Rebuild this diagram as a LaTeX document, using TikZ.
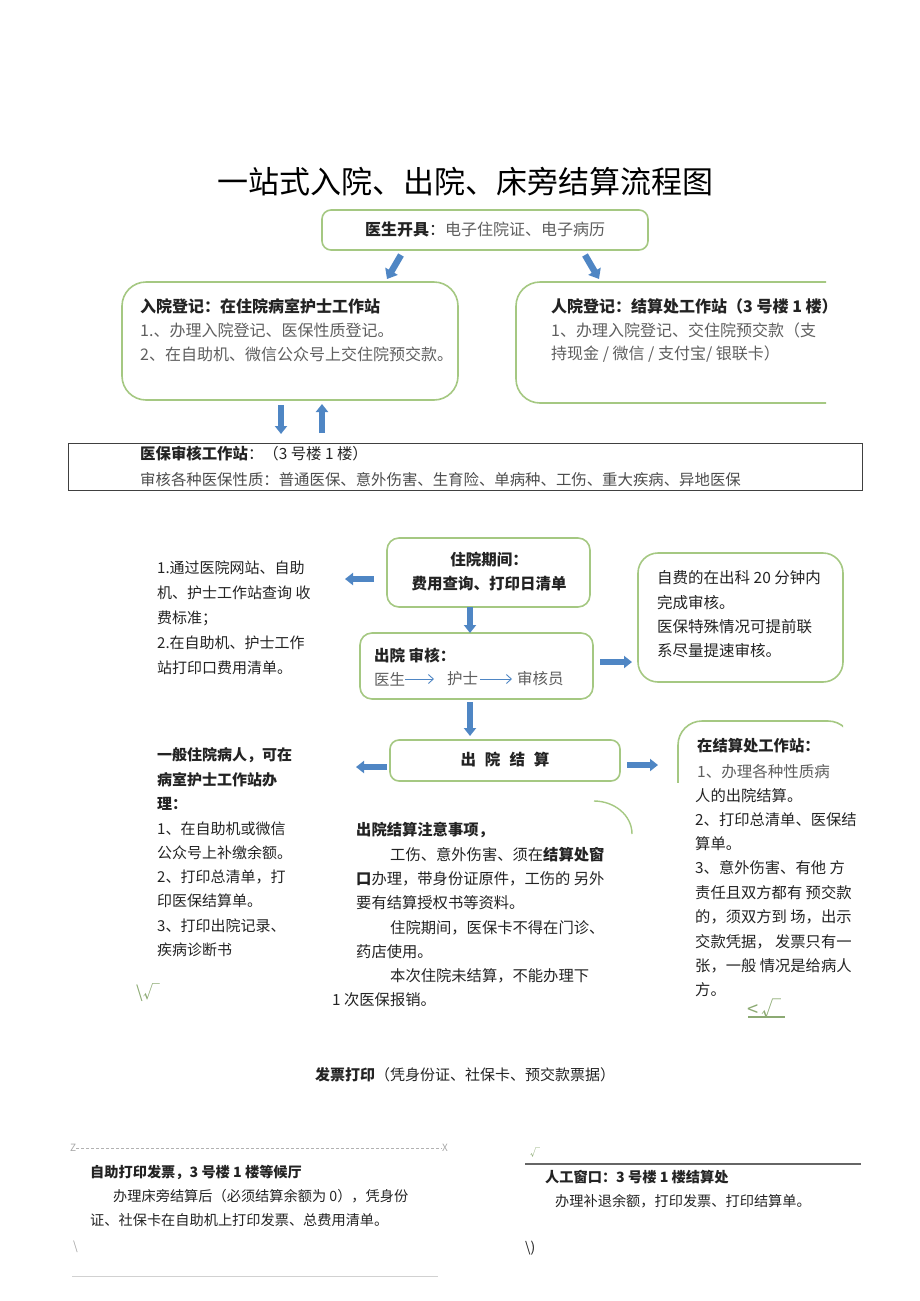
\documentclass[tikz,border=0pt]{standalone}
\usepackage{fontspec}
\setmainfont{Noto Sans CJK SC}
\usetikzlibrary{arrows.meta}
\definecolor{boxgreen}{RGB}{165,200,130}
\definecolor{arrowblue}{RGB}{79,134,196}
\definecolor{graytext}{RGB}{95,95,95}
\definecolor{bodytext}{RGB}{35,35,35}
\definecolor{scribble}{RGB}{140,170,115}
\newcommand\fsz[1]{\fontsize{#1}{#1}\selectfont}
\tikzset{
  gbox/.style={draw=boxgreen, line width=1.6pt, fill=white, inner sep=0pt},
  barrow/.style={draw=arrowblue, line width=6.5pt, -{Triangle[length=9pt,width=14pt]}},
  sarrow/.style={draw=arrowblue, line width=6pt, -{Triangle[length=8pt,width=12pt]}},
  txt/.style={anchor=west, inner sep=0pt, text=bodytext},
  ctxt/.style={anchor=center, inner sep=0pt, text=bodytext},
  thinarrow/.style={draw=arrowblue, line width=0.9pt, -{Straight Barb[length=5pt,width=9pt]}},
  scrib/.style={inner sep=0pt, text=scribble},
}
\begin{document}
\begin{tikzpicture}[x=1pt,y=-1pt]
\useasboundingbox (0,0) rectangle (920,1301);

% title
\node[ctxt, text=black, font=\fsz{31}] (title) at (465,182) {一站式入院、出院、床旁结算流程图};

% top box
\node[gbox, rounded corners=9pt, minimum width=326pt, minimum height=40pt] (b1) at (485,230) {};
\node[ctxt, font=\fsz{16}] (b1t) at (485,229) {\textbf{医生开具}：\textcolor{graytext}{电子住院证、电子病历}};

% left box
\node[gbox, rounded corners=24pt, minimum width=336pt, minimum height=118pt] (b2) at (290,341) {};
\node[txt, font=\fsz{16}\bfseries] (b2a) at (140,306) {入院登记：在住院病室护士工作站};
\node[txt, font=\fsz{16}, text=graytext] (b2b) at (140,330) {1.、办理入院登记、医保性质登记。};
\node[txt, font=\fsz{16}, text=graytext] (b2c) at (140,354) {2、在自助机、微信公众号上交住院预交款。};

% right box (clipped)
\begin{scope}
\clip (505,270) rectangle (826,420);
\node[gbox, rounded corners=24pt, minimum width=334pt, minimum height=121pt] (b3) at (683,342.5) {};
\end{scope}
\node[txt, font=\fsz{16}\bfseries] (b3a) at (551,306) {人院登记：结算处工作站（3 号楼 1 楼）};
\node[txt, font=\fsz{16}, text=graytext] (b3b) at (551,330) {1、办理入院登记、交住院预交款（支};
\node[txt, font=\fsz{16}, text=graytext] (b3c) at (551,354) {持现金 / 微信 / 支付宝/ 银联卡）};

% diagonal arrows
\coordinate (a1s) at (401,255); \coordinate (a1e) at (387,279);
\coordinate (a2s) at (585,255); \coordinate (a2e) at (599,279);
\draw[barrow] (a1s) -- (a1e);
\draw[barrow] (a2s) -- (a2e);

% down / up arrows
\coordinate (a3s) at (281,405); \coordinate (a3e) at (281,434);
\coordinate (a4s) at (322,433); \coordinate (a4e) at (322,404);
\draw[sarrow] (a3s) -- (a3e);
\draw[sarrow] (a4s) -- (a4e);

% insurance audit rectangle
\node[draw=black!75, line width=0.8pt, minimum width=794pt, minimum height=47pt, inner sep=0pt] (ins) at (465,466.5) {};
\node[txt, font=\fsz{15.4}] (ins1) at (140,454) {\textbf{医保审核工作站}：（3 号楼 1 楼）};
\node[txt, font=\fsz{15.4}, text=black!70] (ins2) at (140,480) {审核各种医保性质：普通医保、意外伤害、生育险、单病种、工伤、重大疾病、异地医保};

% left text block
\node[txt, font=\fsz{15}] (l1) at (157,568) {1.通过医院网站、自助};
\node[txt, font=\fsz{15}] (l2) at (157,593) {机、护士工作站查询 收};
\node[txt, font=\fsz{15}] (l3) at (157,618) {费标准；};
\node[txt, font=\fsz{15}] (l4) at (157,643) {2.在自助机、护士工作};
\node[txt, font=\fsz{15}] (l5) at (157,668) {站打印口费用清单。};

% box A
\node[gbox, rounded corners=12pt, minimum width=203pt, minimum height=69pt] (bA) at (488.5,572.5) {};
\node[ctxt, font=\fsz{15.5}\bfseries] (bA1) at (489,560) {住院期间：};
\node[ctxt, font=\fsz{15.5}\bfseries] (bA2) at (489,584) {费用查询、打印日清单};
\coordinate (la1) at (374,579); \coordinate (la2) at (345,579);
\draw[sarrow] (la1) -- (la2);

% box B
\node[gbox, rounded corners=12pt, minimum width=233pt, minimum height=66pt] (bB) at (476.5,666) {};
\node[txt, font=\fsz{15.5}\bfseries] (bB1) at (374,655) {出院 审核：};
\node[txt, font=\fsz{15.5}, text=graytext] (d1) at (374,679) {医生};
\node[txt, font=\fsz{15.5}, text=graytext] (d2) at (447,679) {护士};
\node[txt, font=\fsz{15.5}, text=graytext] (d3) at (517,679) {审核员};
\draw[thinarrow] (d1.east) -- ([xshift=-13pt]d2.west);
\draw[thinarrow] ([xshift=2pt]d2.east) -- ([xshift=-5pt]d3.west);
\coordinate (da1) at (470,607); \coordinate (da2) at (470,633);
\draw[sarrow] (da1) -- (da2);

% box C
\node[gbox, rounded corners=20pt, minimum width=205pt, minimum height=129pt] (bC) at (740.5,617.5) {};
\node[txt, font=\fsz{15.5}] (c1) at (657,578) {自费的在出科 20 分钟内};
\node[txt, font=\fsz{15.5}] (c2) at (657,603) {完成审核。};
\node[txt, font=\fsz{15.5}] (c3) at (657,627) {医保特殊情况可提前联};
\node[txt, font=\fsz{15.5}] (c4) at (657,651) {系尽量提速审核。};
\coordinate (ra1) at (600,662); \coordinate (ra2) at (632,662);
\draw[sarrow] (ra1) -- (ra2);

% box D
\node[gbox, rounded corners=9pt, minimum width=230pt, minimum height=41pt] (bD) at (505,760.5) {};
\node[ctxt, font=\fsz{15.5}\bfseries] (bDt) at (505,760) {出\hspace{9pt}院\hspace{9pt}结\hspace{9pt}算};
\coordinate (db1) at (470,702); \coordinate (db2) at (470,736);
\draw[sarrow] (db1) -- (db2);
\coordinate (la3) at (387,767); \coordinate (la4) at (356,767);
\draw[sarrow] (la3) -- (la4);
\coordinate (ra3) at (627,765); \coordinate (ra4) at (658,765);
\draw[sarrow] (ra3) -- (ra4);

% partial box E
\begin{scope}
\clip (665,705) rectangle (843,782);
\node[gbox, rounded corners=24pt, minimum width=174pt, minimum height=200pt] (bE) at (765,821) {};
\end{scope}

% small green arc
\coordinate (arcA) at (594,801); \coordinate (arcB) at (632,834);
\draw[boxgreen, line width=1.4pt] (arcA) .. controls (614,801) and (632,815) .. (arcB);

% left column
\node[txt, font=\fsz{15}\bfseries] (m1) at (157,755) {一般住院病人，可在};
\node[txt, font=\fsz{15}\bfseries] (m2) at (157,780) {病室护士工作站办};
\node[txt, font=\fsz{15}\bfseries] (m3) at (157,804) {理：};
\node[txt, font=\fsz{15}] (m4) at (157,829) {1、在自助机或微信};
\node[txt, font=\fsz{15}] (m5) at (157,853) {公众号上补缴余额。};
\node[txt, font=\fsz{15}] (m6) at (157,877) {2、打印总清单，打};
\node[txt, font=\fsz{15}] (m7) at (157,901) {印医保结算单。};
\node[txt, font=\fsz{15}] (m8) at (157,926) {3、打印出院记录、};
\node[txt, font=\fsz{15}] (m9) at (157,950) {疾病诊断书};
\node[scrib, anchor=west, font=\fsz{17}] (s1) at (136,993) {\textbackslash√};

% middle notes
\node[txt, font=\fsz{15.3}\bfseries] (n1) at (356,830) {出院结算注意事项，};
\node[txt, font=\fsz{15.3}] (n2) at (390,855) {工伤、意外伤害、须在\textbf{结算处窗}};
\node[txt, font=\fsz{15.3}] (n3) at (356,879) {\textbf{口}办理，带身份证原件，工伤的 另外};
\node[txt, font=\fsz{15.3}] (n4) at (356,903) {要有结算授权书等资料。};
\node[txt, font=\fsz{15.3}] (n5) at (390,928) {住院期间，医保卡不得在门诊、};
\node[txt, font=\fsz{15.3}] (n6) at (356,952) {药店使用。};
\node[txt, font=\fsz{15.3}] (n7) at (390,976) {本次住院未结算，不能办理下};
\node[txt, font=\fsz{15.3}] (n8) at (332,1000) {1 次医保报销。};

% right column
\node[txt, font=\fsz{15.3}\bfseries] (r1) at (697,746) {在结算处工作站：};
\node[txt, font=\fsz{15.5}, text=graytext] (r2) at (697,772) {1、办理各种性质病};
\node[txt, font=\fsz{15.3}] (r3) at (695,796) {人的出院结算。};
\node[txt, font=\fsz{15.3}] (r4) at (695,820) {2、打印总清单、医保结};
\node[txt, font=\fsz{15.3}] (r5) at (695,844) {算单。};
\node[txt, font=\fsz{15.3}] (r6) at (695,868) {3、意外伤害、有他 方};
\node[txt, font=\fsz{15.3}] (r7) at (695,893) {责任且双方都有 预交款};
\node[txt, font=\fsz{15.3}] (r8) at (695,917) {的，须双方到 场，出示};
\node[txt, font=\fsz{15.3}] (r9) at (695,942) {交款凭据， 发票只有一};
\node[txt, font=\fsz{15.3}] (r10) at (695,966) {张，一般 情况是给病人};
\node[txt, font=\fsz{15.3}] (r11) at (695,990) {方。};
\node[scrib, anchor=west, font=\fsz{20}] (s2) at (747,1009) {<\,√};
\draw[scribble, line width=1.6pt] (s2.south west) ++(1pt,2pt) coordinate (u1) -- ++(37pt,0) coordinate (u2);

% invoice print
\node[ctxt, font=\fsz{15}] (inv) at (465,1075) {\textbf{发票打印}（凭身份证、社保卡、预交款票据）};

% bottom left
\node[scrib, anchor=west, font=\fsz{10}, text=black!35] (zl) at (70,1148) {Z};
\node[scrib, anchor=east, font=\fsz{10}, text=black!35] (xl) at (448,1148) {X};
\draw[black!30, dashed, dash pattern=on 3pt off 2pt, line width=0.6pt] (zl.east) -- (xl.west);
\node[txt, font=\fsz{14.2}\bfseries] (bl1) at (90,1172) {自助打印发票，3 号楼 1 楼等候厅};
\node[txt, font=\fsz{14.2}] (bl2) at (113,1196) {办理床旁结算后（必须结算余额为 0），凭身份};
\node[txt, font=\fsz{14.2}] (bl3) at (90,1220) {证、社保卡在自助机上打印发票、总费用清单。};
\node[scrib, anchor=west, font=\fsz{12}, text=black!35] (bs) at (73,1247) {\textbackslash};
\coordinate (bll) at (72,1276); \coordinate (blr) at (438,1276);
\draw[black!18, line width=0.8pt] (bll) -- (blr);

% bottom right
\node[scrib, anchor=west, font=\fsz{10}] (ck) at (530,1153) {√};
\coordinate (rl1) at (525,1164); \coordinate (rl2) at (861,1164);
\draw[black!60, line width=1.2pt] (rl1) -- (rl2);
\node[txt, font=\fsz{14.2}\bfseries] (br1) at (545,1177) {人工窗口：3 号楼 1 楼结算处};
\node[txt, font=\fsz{14.2}] (br2) at (555,1201) {办理补退余额，打印发票、打印结算单。};
\node[txt, font=\fsz{14}] (br3) at (525,1248) {\textbackslash)};
\end{tikzpicture}
\end{document}
